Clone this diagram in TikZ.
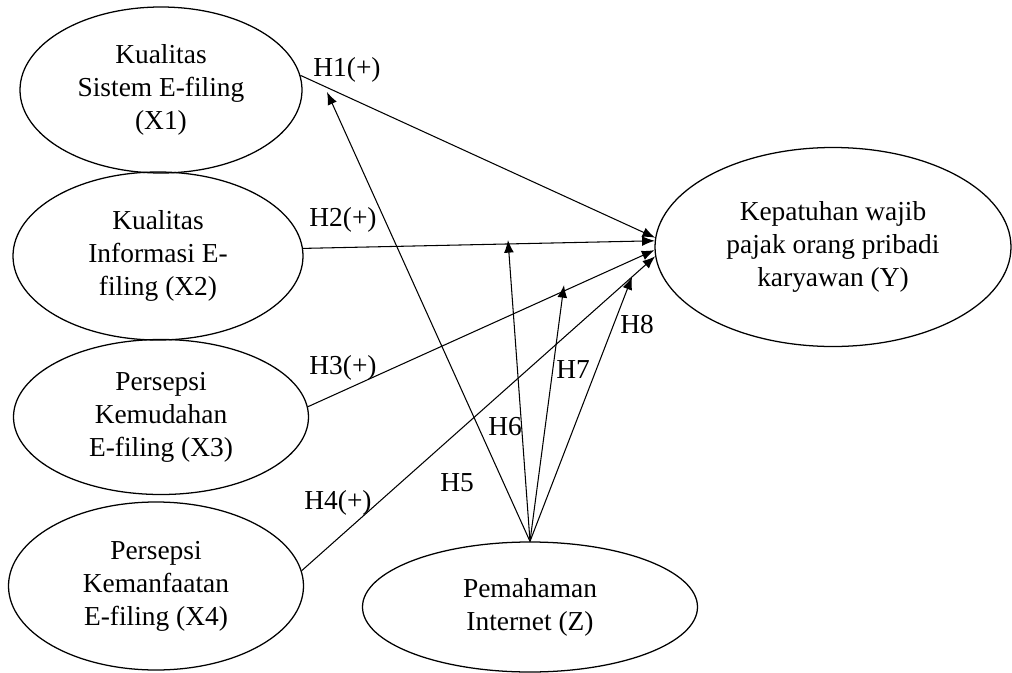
\documentclass[tikz,border=0pt]{standalone}
\usepackage{fontspec}
\setmainfont{Liberation Serif}
\usetikzlibrary{shapes.geometric,arrows.meta}

\begin{document}
\begin{tikzpicture}[scale=1.0,
  font=\fontsize{19.5}{23.5}\selectfont,
  var/.style={ellipse, draw, line width=0.9pt, inner sep=0pt, align=center},
  hyp/.style={->, >={Latex[length=9pt,width=7pt]}, line width=0.75pt}]
\useasboundingbox (0,0) rectangle (25.3,-16.825);

\node[var, minimum width=7.05cm, minimum height=4.15cm] (X1) at (4.025,-2.25) {Kualitas\\Sistem E-filing\\(X1)};
\node[var, minimum width=7.25cm, minimum height=4.2cm] (X2) at (3.95,-6.4) {Kualitas\\Informasi E-\\filing (X2)};
\node[var, minimum width=7.375cm, minimum height=3.875cm] (X3) at (4.025,-10.425) {Persepsi\\Kemudahan\\E-filing (X3)};
\node[var, minimum width=7.375cm, minimum height=4.2cm] (X4) at (3.9,-14.65) {Persepsi\\Kemanfaatan\\E-filing (X4)};

\node[var, minimum width=8.9cm, minimum height=4.975cm] (Y) at (20.825,-6.175) {Kepatuhan wajib\\pajak orang pribadi\\karyawan (Y)};
\node[var, minimum width=8.375cm, minimum height=3.25cm] (Z) at (13.25,-15.175) {Pemahaman\\Internet (Z)};

\coordinate (h5) at (8.175,-2.3);
\coordinate (h6) at (12.7,-6.0);
\coordinate (h7) at (14.1,-7.125);
\coordinate (h8) at (15.8,-6.925);

\path[hyp] (X1.6) edge [] (Y.177);
\path[hyp] (X2.3) edge [] (Y.178);
\path[hyp] (X3.4) edge [] (Y.181);
\path[hyp] (X4.6) edge [] (Y.183);

\path[hyp] (Z.north) edge [] (h5);
\path[hyp] (Z.north) edge [] (h6);
\path[hyp] (Z.north) edge [] (h7);
\path[hyp] (Z.north) edge [] (h8);

\node (l1) at (8.675,-1.75) {H1(+)};
\node (l2) at (8.575,-5.5) {H2(+)};
\node (l3) at (8.575,-9.2) {H3(+)};
\node (l4) at (8.45,-12.575) {H4(+)};

\node (l5) at (11.425,-12.075) {H5};
\node (l6) at (12.625,-10.675) {H6};
\node (l7) at (14.325,-9.25) {H7};
\node (l8) at (15.925,-8.125) {H8};
\end{tikzpicture}
\end{document}
